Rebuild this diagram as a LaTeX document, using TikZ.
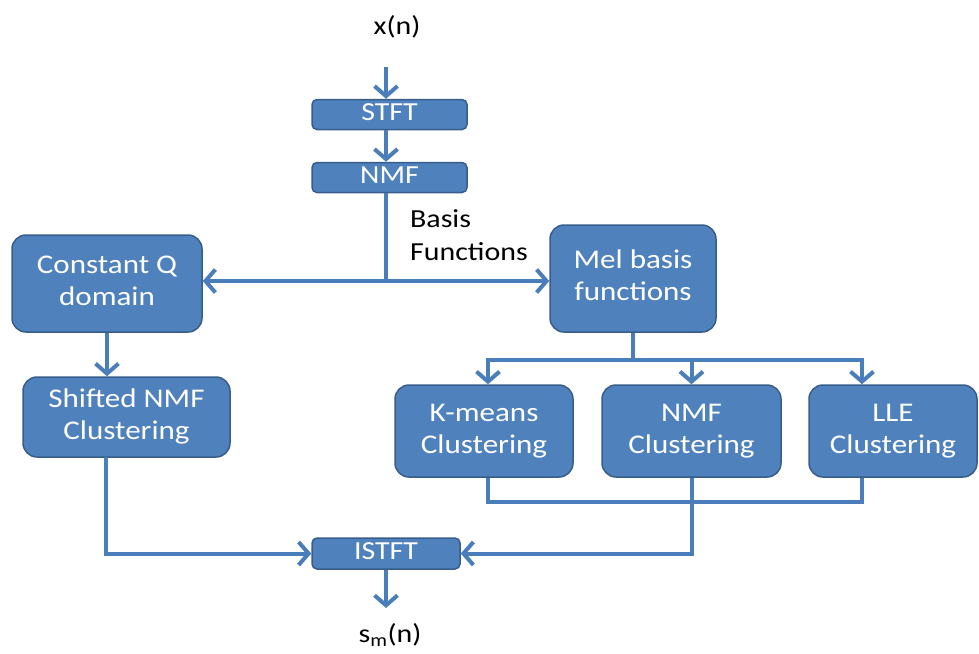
\documentclass[tikz,border=0pt]{standalone}
\usepackage{fontspec}
\usepackage{graphicx}
\setmainfont{Carlito}
\usetikzlibrary{arrows.meta}
\definecolor{boxfill}{HTML}{4F81BD}
\definecolor{boxline}{HTML}{385D8A}
\definecolor{connc}{HTML}{4A7EBB}
\newcommand{\wt}[1]{\scalebox{1.15}[1]{\begin{tabular}{@{}c@{}}#1\end{tabular}}}
\newcommand{\wl}[1]{\scalebox{1.15}[1]{\begin{tabular}{@{}l@{}}#1\end{tabular}}}
\tikzset{
  bigbox/.style={draw=boxline, line width=1.5pt, fill=boxfill, rounded corners=14pt,
    text=white, inner sep=0pt, font=\fontsize{27}{32}\selectfont},
  smallbox/.style={draw=boxline, line width=1.5pt, fill=boxfill, rounded corners=5pt,
    text=white, inner sep=0pt, font=\fontsize{26}{30}\selectfont},
  lbl/.style={text=black, inner sep=0pt, font=\fontsize{26}{33}\selectfont},
  conn/.style={draw=connc, line width=4pt},
  arr/.style={conn, -{Straight Barb[length=10pt,width=23pt]}},
}
\begin{document}
\begin{tikzpicture}[x=1pt,y=-1pt]
\useasboundingbox (0,0) rectangle (979,653);
% nodes
\node[lbl] (xn) at (397,28) {\wt{x(n)}};
\node[smallbox, minimum width=155pt, minimum height=27pt] (stft) at (389.5,114.5) {\wt{STFT}};
\node[smallbox, minimum width=155pt, minimum height=29pt] (nmf) at (389.5,177.5) {\wt{NMF}};
\node[lbl, anchor=north west] (bf) at (410,204) {\wl{Basis\\Functions}};
\node[bigbox, minimum width=190pt, minimum height=97pt] (cq) at (107,283.5) {\wt{Constant Q\\domain}};
\node[bigbox, minimum width=166pt, minimum height=107pt] (mel) at (633,278.5) {\wt{Mel basis\\functions}};
\node[bigbox, minimum width=207pt, minimum height=80pt] (shift) at (126.5,417) {\wt{Shifted NMF\\Clustering}};
\node[bigbox, minimum width=178pt, minimum height=92pt] (km) at (484,431) {\wt{K-means\\Clustering}};
\node[bigbox, minimum width=179pt, minimum height=92pt] (nmfc) at (691.5,431) {\wt{NMF\\Clustering}};
\node[bigbox, minimum width=168pt, minimum height=92pt] (lle) at (893,431) {\wt{LLE\\Clustering}};
\node[smallbox, minimum width=148pt, minimum height=31pt] (istft) at (386,553.5) {\wt{ISTFT}};
\node[lbl] (sm) at (390,636) {\wt{s\textsubscript{m}(n)}};
% coordinates
\coordinate (xin) at (386,67);
\coordinate (split) at (386,281);
\coordinate (mb) at (633,360);
\coordinate (bl) at (488,360);
\coordinate (br) at (862,360);
\coordinate (jb) at (692,502);
\coordinate (sl) at (106,457);
\coordinate (out) at (386,608);
% connectors
\draw[arr] (xin) -- (xin |- stft.north);
\draw[arr] (xin |- stft.south) -- (xin |- nmf.north);
\draw[conn] (xin |- nmf.south) -- (split);
\draw[arr] (split) -- (cq.east |- split);
\draw[arr] (split) -- (mel.west |- split);
\draw[arr] (cq.south) -- (cq.south |- shift.north);
\draw[conn] (mel.south) -- (mb);
\draw[arr] (mb) -| (bl |- km.north);
\draw[arr] (mb) -| (br |- lle.north);
\draw[arr] (mb) -| (nmfc.north);
\draw[conn] (bl |- km.south) |- (jb);
\draw[conn] (br |- lle.south) |- (jb);
\draw[arr] (nmfc.south) |- (istft.east);
\draw[arr] (sl) |- (istft.west);
\draw[arr] (istft.south) -- (out);
\end{tikzpicture}
\end{document}
